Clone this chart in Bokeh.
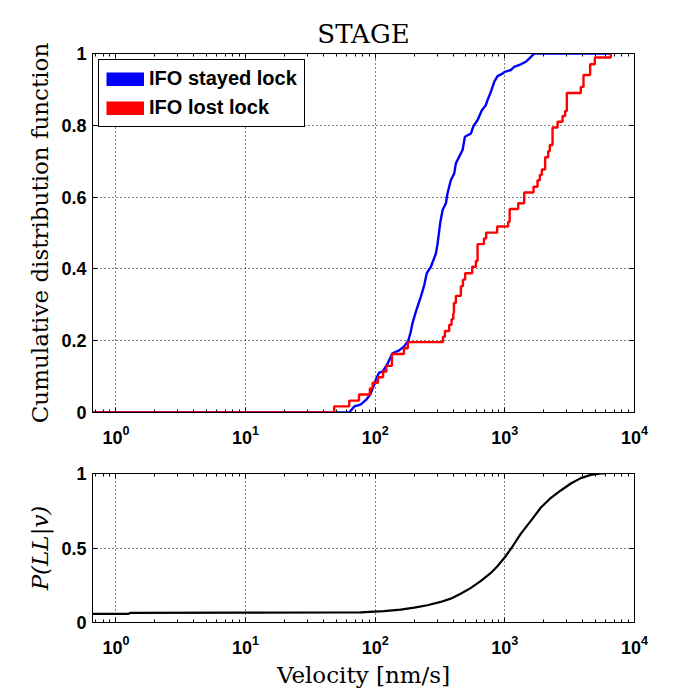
from bokeh.plotting import figure
from bokeh.layouts import column
from bokeh.models import (Range1d, FixedTicker, LogAxis, LinearAxis,
                          CustomJSTickFormatter, Legend, LegendItem)
from bokeh.embed import file_html
from bokeh.resources import INLINE

# ---------------- data ----------------
# IFO stayed lock : empirical CDF (velocity nm/s, cumulative fraction)
stay_v = [0.66, 63, 69, 77, 85, 91.5, 97, 101, 107, 114, 125, 136, 153, 167, 180,
          188, 194, 206, 225, 239, 250, 269, 294, 303, 317, 331, 351, 361, 383,
          407, 419, 444, 472, 492, 547, 573, 615, 665, 713, 735, 780, 828, 878,
          960, 1000, 1112, 1180, 1328, 1452, 1540, 1690, 6563]
stay_cdf = [0.0, 0.0, 0.017, 0.022, 0.035, 0.05, 0.072, 0.091, 0.111, 0.114, 0.137,
            0.165, 0.173, 0.184, 0.2, 0.225, 0.249, 0.281, 0.323, 0.355, 0.388,
            0.406, 0.443, 0.471, 0.527, 0.564, 0.583, 0.61, 0.647, 0.666, 0.694,
            0.712, 0.731, 0.768, 0.777, 0.798, 0.814, 0.842, 0.856, 0.87, 0.893,
            0.921, 0.937, 0.944, 0.949, 0.954, 0.963, 0.97, 0.977, 0.986, 1.0, 1.0]

# IFO lost lock : empirical CDF steps (velocity where the step happens, level after it)
lost_v = [0.66, 48.3, 63, 75, 91, 95.5, 105, 115, 122, 134.5, 166.5, 178.6, 333,
          345, 372, 388, 400, 405, 419, 458, 475, 494, 560, 598, 616, 690, 718,
          872, 1061, 1090, 1267, 1410, 1664, 1786, 1862, 1929, 2045, 2158, 2223,
          2333, 2549, 2784, 2917, 3007, 3853, 4042, 4548, 4943, 6563]
lost_cdf = [0.0, 0.017, 0.033, 0.05, 0.067, 0.083, 0.098, 0.114, 0.13, 0.163,
            0.179, 0.196, 0.211, 0.227, 0.244, 0.26, 0.277, 0.305, 0.325, 0.352,
            0.37, 0.388, 0.406, 0.422, 0.469, 0.485, 0.501, 0.518, 0.531, 0.567,
            0.583, 0.613, 0.629, 0.647, 0.662, 0.677, 0.711, 0.728, 0.745, 0.794,
            0.81, 0.826, 0.84, 0.89, 0.907, 0.94, 0.97, 0.989, 1.0]

# P(LL|v)
pll_v = [0.66, 1.25, 1.3, 10, 50, 77, 117, 157, 200, 253, 320, 382, 456, 544, 650,
         776, 873, 1000, 1125, 1325, 1580, 1890, 2255, 2700, 3228, 3854, 4600,
         5500, 6000]
pll = [0.058, 0.058, 0.065, 0.066, 0.067, 0.068, 0.076, 0.087, 0.1, 0.116, 0.138,
       0.16, 0.193, 0.231, 0.278, 0.331, 0.376, 0.438, 0.5, 0.595, 0.68, 0.77,
       0.835, 0.886, 0.933, 0.969, 0.991, 1.0, 1.0]

x_major = [1, 10, 100, 1000, 10000]
x_minor = [m * 10 ** k for k in range(-1, 4) for m in range(2, 10)]
y_ticks_top = [0, 0.2, 0.4, 0.6, 0.8, 1]
y_ticks_bot = [0, 0.5, 1]
x_lim = (0.66, 10000)
series_names = ["IFO stayed lock", "IFO lost lock"]
series_colors = ["#0000ff", "#ff0000"]

TICK_FONT = "Liberation Sans"
SERIF = "DejaVu Serif"
NAN = float("nan")

xr = Range1d(*x_lim)


def style(p, yticks):
    p.outline_line_color = "black"
    p.outline_line_alpha = 1
    p.background_fill_color = "white"
    p.border_fill_color = "white"
    yfmt = CustomJSTickFormatter(code="return (tick == 0 || tick == 1) ? tick.toFixed(0) : tick.toFixed(1);")
    for ax in p.xaxis:
        ax.ticker = FixedTicker(ticks=x_major, minor_ticks=x_minor)
    for ax in p.yaxis:
        ax.ticker = FixedTicker(ticks=yticks)
        ax.formatter = yfmt
    for ax in p.xaxis + p.yaxis:
        ax.major_tick_in = 5
        ax.major_tick_out = 0
        ax.minor_tick_in = 3
        ax.minor_tick_out = 0
        ax.axis_line_color = "black"
        ax.major_tick_line_color = "black"
        ax.minor_tick_line_color = "black"
        ax.major_label_text_font = TICK_FONT
        ax.major_label_text_font_style = "bold"
        ax.major_label_text_font_size = "18px"
        ax.major_label_text_color = "black"
        ax.axis_label_text_font = SERIF
        ax.axis_label_text_font_size = "23px"
        ax.axis_label_text_color = "black"
    p.yaxis.minor_tick_line_color = None
    p.xaxis.major_label_standoff = 12
    p.yaxis.major_label_standoff = 6
    # box ticks on top and right
    top = LogAxis(ticker=FixedTicker(ticks=x_major, minor_ticks=x_minor),
                  formatter=CustomJSTickFormatter(code="return '';"))
    right = LinearAxis(ticker=FixedTicker(ticks=yticks),
                       formatter=CustomJSTickFormatter(code="return '';"))
    for ax in (top, right):
        ax.major_tick_in = 5
        ax.major_tick_out = 0
        ax.minor_tick_in = 3
        ax.minor_tick_out = 0
        ax.axis_line_color = "black"
        ax.major_label_text_font_size = "1px"
        ax.major_label_standoff = 0
    right.minor_tick_line_color = None
    p.add_layout(top, "above")
    p.add_layout(right, "right")
    for g in (p.xgrid, p.ygrid):
        g.grid_line_color = "black"
        g.grid_line_dash = "1 3"
        g.grid_line_width = 1
        g.grid_line_alpha = 1


p1 = figure(frame_width=542, frame_height=359, x_axis_type="log", x_range=xr,
            y_range=Range1d(0, 1), output_backend="svg", toolbar_location=None,
            min_border_left=92, min_border_right=50, min_border_top=53,
            min_border_bottom=40)
p1.title.text = "STAGE"
p1.title.align = "center"
p1.title.text_font = SERIF
p1.title.text_font_style = "normal"
p1.title.text_font_size = "26px"
p1.title.text_color = "black"
p1.yaxis.axis_label = "Cumulative distribution function"
style(p1, y_ticks_top)
p1.yaxis.axis_label_text_font_style = "normal"

p1.line(stay_v, stay_cdf, line_color=series_colors[0], line_width=2.4)
p1.step(lost_v, lost_cdf, mode="after", line_color=series_colors[1], line_width=2.4)

# legend swatches (thick lines, nothing drawn in the plot)
swatches = [p1.line([NAN], [NAN], line_color=c, line_width=14, line_cap="butt")
            for c in series_colors]
leg = Legend(items=[LegendItem(label=n, renderers=[s]) for n, s in zip(series_names, swatches)],
             location="top_left", margin=6, padding=7, spacing=6,
             glyph_width=38, glyph_height=14, label_height=21,
             label_text_font=TICK_FONT, label_text_font_style="bold",
             label_text_font_size="20px", label_text_color="black",
             border_line_color="black", border_line_alpha=1,
             border_line_width=1, background_fill_alpha=1)
p1.add_layout(leg)

p2 = figure(frame_width=542, frame_height=149, x_axis_type="log", x_range=xr,
            y_range=Range1d(0, 1), output_backend="svg", toolbar_location=None,
            min_border_left=92, min_border_right=50, min_border_top=21,
            min_border_bottom=62)
p2.yaxis.axis_label = "P(LL|v)"
p2.xaxis.axis_label = "Velocity [nm/s]"
style(p2, y_ticks_bot)
p2.yaxis.axis_label_text_font_style = "italic"
p2.xaxis.axis_label_text_font_style = "normal"
p2.line(pll_v, pll, line_color="black", line_width=2.2)

layout = column(p1, p2, spacing=0)
open("out.html", "w").write(file_html(layout, INLINE))
